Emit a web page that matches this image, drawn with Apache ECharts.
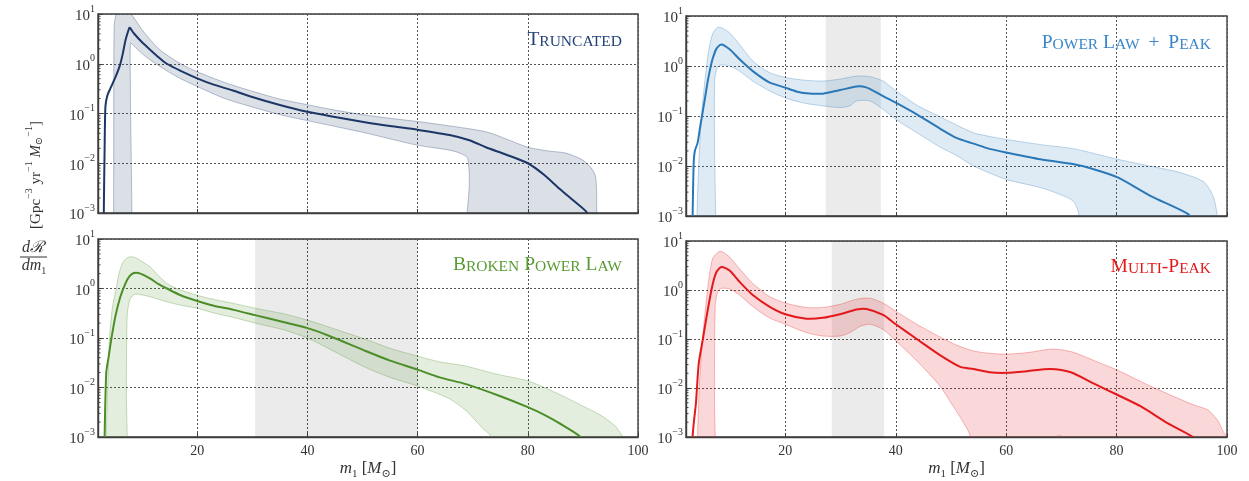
<!DOCTYPE html>
<html>
<head>
<meta charset="utf-8">
<script src="https://cdn.jsdelivr.net/npm/echarts@6/dist/echarts.min.js"></script>
<style>
  html, body { margin: 0; padding: 0; background: #ffffff; }
  #chart { width: 1249px; height: 481px; }
</style>
</head>
<body>
<div id="chart"></div>
<script>
// ---- primary-mass axis and rate axis ----
const massRange = [2, 100];
const massTicks = [20, 40, 60, 80, 100];
const rateRange = [0.001, 10];
const rateMinor = [];
for (let e = -3; e < 1; e++) for (let k = 2; k <= 9; k++) rateMinor.push(k * Math.pow(10, e));

// ---- Truncated model: median and 90% band ----
const truncMedian = [[3.0,1e-4],[3.05,0.001],[3.2,0.02],[3.35,0.14],[3.7,0.23],[4.25,0.32],[5.2,0.55],[6.0,0.95],[6.5,1.6],[7.0,3.0],[7.5,4.6],[7.75,5.3],[8.5,4.1],[10,2.7],[11.5,1.9],[13,1.35],[14.5,1.0],[17,0.72],[20,0.51],[23,0.38],[26.5,0.29],[30,0.215],[35,0.148],[40,0.108],[45,0.085],[50.7,0.066],[55,0.056],[60,0.047],[65.8,0.037],[69.4,0.029],[72.4,0.021],[76,0.015],[80,0.010],[83,0.0058],[85.7,0.0031],[88.5,0.0017],[90.8,0.001],[91.5,5e-4]];
const truncUpper = [[4.8,1e-5],[4.85,0.01],[4.87,1],[4.95,6],[5.2,9],[5.5,11],[6.5,14],[7.5,13],[8.2,9.5],[9,7],[10,4.8],[11.5,3.0],[13,2.0],[14.5,1.5],[17,1.0],[20,0.69],[25,0.42],[30,0.28],[35,0.195],[40,0.15],[45,0.117],[50,0.095],[55,0.08],[60,0.069],[65,0.058],[72.4,0.043],[76,0.031],[80,0.021],[84,0.0175],[86.9,0.016],[89.9,0.0117],[91.5,0.008],[92.3,0.0054],[92.5,0.002],[92.55,1e-5]];
const truncLower = [[4.8,1e-5],[7.85,1e-5],[7.87,0.5],[7.9,2.6],[8.5,2.3],[10,1.6],[11.5,1.19],[14.5,0.72],[17,0.5],[20,0.35],[25,0.2],[30,0.135],[35,0.095],[40,0.072],[45,0.055],[50,0.042],[55,0.031],[60,0.023],[65,0.019],[67,0.017],[68.5,0.0145],[69.1,0.0126],[69.4,0.005],[69.45,1e-5],[93,1e-5]];

// ---- Power Law + Peak ----
const plpMedian = [[3.1,1e-4],[3.2,0.001],[3.4,0.012],[3.6,0.02],[4.1,0.029],[4.5,0.055],[5.0,0.117],[5.5,0.25],[5.9,0.47],[6.3,0.8],[6.8,1.36],[7.5,2.2],[8.4,2.7],[9.9,2.16],[11.7,1.36],[14.1,0.79],[17.1,0.47],[20,0.37],[22,0.31],[23.8,0.284],[26.8,0.28],[29.9,0.33],[32.9,0.39],[34,0.39],[35.3,0.35],[37.7,0.25],[40,0.185],[43.8,0.108],[48,0.056],[51.1,0.036],[54.1,0.028],[57,0.022],[60,0.0186],[66.2,0.0136],[72.3,0.0108],[76,0.0085],[80.2,0.0059],[86.2,0.0025],[92.9,0.0011],[94,7e-4]];
const plpUpper = [[3.9,1e-5],[4.0,0.001],[4.3,0.01],[4.8,0.1],[5.5,0.6],[6.1,2.0],[6.8,4.3],[7.7,5.9],[8.6,5.7],[9.9,4.6],[11.7,2.7],[14.1,1.26],[17.1,0.74],[20,0.59],[23.5,0.52],[26.8,0.5],[30,0.55],[32.9,0.63],[35.3,0.61],[37.7,0.5],[40,0.32],[44,0.16],[48,0.097],[51.1,0.065],[54.1,0.046],[57,0.039],[60,0.034],[66,0.027],[72.3,0.022],[80.2,0.0136],[85,0.0105],[90.5,0.0079],[94,0.006],[95.9,0.0047],[97,0.0032],[97.7,0.0021],[98.2,0.001],[98.4,1e-5]];
const plpLower = [[3.9,1e-5],[7.1,1e-5],[7.15,0.05],[7.2,0.5],[7.6,0.9],[8.4,1.05],[9.9,1.0],[11.7,0.79],[14.1,0.5],[17.1,0.32],[20,0.23],[23.5,0.18],[26.8,0.16],[29.9,0.147],[31.7,0.16],[32.9,0.2],[35.3,0.2],[37.7,0.136],[40,0.086],[44,0.045],[48,0.024],[51.1,0.016],[54.1,0.01],[60,0.0054],[66.2,0.0037],[70.5,0.0025],[72.3,0.0019],[73.2,0.001],[73.5,1e-5],[98.4,1e-5]];
const plpShade = [27.3, 37.3];

// ---- Broken Power Law ----
const bplMedian = [[3.1,1e-4],[3.2,0.001],[3.5,0.02],[3.95,0.043],[4.4,0.093],[5.2,0.29],[6.06,0.68],[6.97,1.26],[7.7,1.75],[8.5,2.05],[9.7,2.0],[11.5,1.58],[13,1.22],[14.5,1.0],[17,0.73],[20,0.56],[23,0.45],[26.6,0.37],[30.5,0.29],[35.6,0.21],[40,0.158],[44,0.11],[50.7,0.054],[55,0.035],[60,0.023],[64,0.016],[68.8,0.0117],[74.8,0.0068],[80,0.004],[83,0.0028],[85.7,0.0019],[89.6,0.001],[91,6e-4]];
const bplUpper = [[3.4,1e-5],[3.5,0.001],[3.77,0.01],[4.1,0.1],[4.6,0.4],[5.3,1.0],[5.8,2.0],[6.5,3.3],[7.2,4.1],[8.0,4.4],[9,4.1],[10,3.5],[11.5,2.7],[13,1.8],[14.5,1.26],[17,0.93],[20,0.73],[23,0.6],[26.6,0.5],[30.5,0.4],[35.6,0.31],[40,0.23],[44,0.165],[50.7,0.093],[55,0.062],[60,0.043],[64,0.033],[68.8,0.027],[74,0.019],[80,0.0136],[83,0.01],[86.9,0.0063],[90,0.0042],[92.9,0.0029],[95,0.002],[96,0.0016],[96.8,0.0012],[97.2,0.001],[97.4,1e-5]];
const bplLower = [[3.4,1e-5],[7.1,1e-5],[7.15,0.01],[7.3,0.3],[7.8,0.6],[8.5,0.75],[9.1,0.77],[11.5,0.68],[14.5,0.54],[17,0.46],[20,0.4],[23,0.32],[26.6,0.26],[30.5,0.2],[35.6,0.147],[40,0.1],[44,0.06],[50.7,0.025],[55,0.016],[60,0.0107],[65.8,0.0059],[68.8,0.0034],[71.8,0.0015],[73.3,0.001],[73.6,1e-5],[97.4,1e-5]];
const bplShade = [30.5, 60];

// ---- Multi-Peak ----
const mpMedian = [[3.1,1e-4],[3.2,0.001],[3.4,0.0019],[3.8,0.0049],[4.3,0.031],[5.0,0.092],[5.9,0.37],[6.8,1.26],[7.5,2.3],[8.4,2.95],[9.9,2.5],[11.7,1.47],[14.1,0.79],[17.1,0.46],[20,0.32],[23.8,0.26],[26.8,0.27],[29.9,0.32],[32.9,0.4],[34.7,0.41],[37.7,0.31],[40,0.2],[43.8,0.1],[48,0.047],[51.7,0.027],[54.1,0.0245],[57,0.021],[60,0.0204],[63.8,0.022],[68,0.0245],[71.7,0.021],[75.9,0.0123],[80.2,0.0072],[84.4,0.0042],[89.3,0.0019],[93.8,0.001],[95,7e-4]];
const mpUpper = [[3.9,1e-5],[4.1,0.001],[4.4,0.01],[5.0,0.1],[5.9,1.0],[6.8,4.3],[8.0,6.1],[8.6,6.0],[9.9,4.7],[11.7,2.7],[14.1,1.36],[17.1,0.74],[20,0.54],[23.8,0.44],[26.8,0.44],[29.9,0.51],[32.9,0.65],[35.3,0.68],[37.7,0.54],[40,0.37],[43.8,0.2],[48,0.11],[51,0.075],[54.1,0.057],[57,0.051],[60,0.049],[64,0.053],[68,0.062],[70,0.06],[72.3,0.053],[76,0.036],[80.2,0.023],[85,0.0125],[90.5,0.0066],[94,0.0045],[96.5,0.0036],[97.5,0.0028],[98.4,0.0021],[99.3,0.0013],[99.9,0.001],[100.5,1e-5]];
const mpLower = [[3.9,1e-5],[7.1,1e-5],[7.15,0.01],[7.3,0.5],[7.8,0.95],[8.4,1.08],[9.9,1.05],[11.7,0.79],[14.1,0.46],[17.1,0.27],[20,0.2],[23.8,0.135],[26.8,0.115],[29.9,0.115],[31.7,0.135],[33.5,0.18],[35.3,0.2],[37.7,0.157],[40,0.092],[43.8,0.036],[48,0.011],[50,0.005],[52,0.0022],[53.5,0.001],[53.8,1e-5],[68.2,1e-5],[69,0.00098],[69.5,0.00108],[70.2,0.00098],[71,1e-5],[100.5,1e-5]];
const mpShade = [28.4, 37.9];

// ---- panel definitions ----
const panels = [
  { title: 'Truncated',        median: truncMedian, upper: truncUpper, lower: truncLower, shade: null,
    line: '#1c3766', text: '#24427a', fill: 'rgba(28,55,102,0.16)', edge: 'rgba(28,55,102,0.30)',
    grid: { left: 98, top: 14, width: 540, height: 199 }, labels: false, titlePos: [622, 40] },
  { title: 'Power Law + Peak', median: plpMedian, upper: plpUpper, lower: plpLower, shade: plpShade,
    line: '#2a78b8', text: '#3a86c8', fill: 'rgba(42,120,184,0.15)', edge: 'rgba(42,120,184,0.30)',
    grid: { left: 686, top: 16, width: 541, height: 200 }, labels: false, titlePos: [1211, 43] },
  { title: 'Broken Power Law', median: bplMedian, upper: bplUpper, lower: bplLower, shade: bplShade,
    line: '#4b8e28', text: '#5a9a35', fill: 'rgba(75,142,40,0.15)', edge: 'rgba(75,142,40,0.30)',
    grid: { left: 98, top: 239, width: 540, height: 200 }, labels: true, titlePos: [622, 265] },
  { title: 'Multi-Peak',       median: mpMedian, upper: mpUpper, lower: mpLower, shade: mpShade,
    line: '#e3191c', text: '#e3191c', fill: 'rgba(227,25,28,0.17)', edge: 'rgba(227,25,28,0.30)',
    grid: { left: 686, top: 241, width: 541, height: 200 }, labels: true, titlePos: [1211, 267] }
];

const serif = '"Liberation Serif", "DejaVu Serif", serif';
const axisColor = '#3d3d3d';

// small caps: capitals stay large, lower-case letters become small capitals,
// a lone "+" gets math spacing
function smallCaps(str) {
  let out = '', run = '', runStyle = null;
  const flush = () => { if (run) out += '{' + runStyle + '|' + run + '}'; run = ''; };
  for (const ch of str) {
    const style = ch === '+' ? 'p' : (ch !== ch.toUpperCase() ? 's' : 'c');
    if (runStyle !== null && style !== runStyle) flush();
    runStyle = style;
    run += style === 's' ? ch.toUpperCase() : ch;
  }
  flush();
  return out;
}

function powerLabel(v) {
  const e = Math.round(Math.log10(v));
  return '{b|10}{s|' + (e < 0 ? '\u2212' + (-e) : String(e)) + '}';
}

const grids = [], xAxes = [], yAxes = [], series = [], graphics = [];

panels.forEach((p, i) => {
  grids.push(Object.assign({ show: true, borderColor: axisColor, borderWidth: 1.4, backgroundColor: 'transparent', containLabel: false }, p.grid));

  xAxes.push({
    type: 'value', gridIndex: i, min: massRange[0], max: massRange[1],
    axisLine: { show: true, lineStyle: { color: axisColor, width: 1.4 } },
    axisTick: { show: true, inside: true, length: 4, customValues: massTicks, lineStyle: { color: axisColor } },
    axisLabel: { show: p.labels, customValues: massTicks, margin: 7, color: '#333', fontFamily: serif, fontSize: 14 },
    splitLine: { show: true, lineStyle: { color: '#555', type: [2, 2], width: 1 } },
    name: p.labels ? '{i|m}{sub|1}{n| [}{i|M}{sub|\u2299}{n|]}' : '',
    nameLocation: 'middle', nameGap: 23,
    nameTextStyle: {
      color: '#333', fontFamily: serif,
      rich: {
        i: { fontFamily: serif, fontStyle: 'italic', fontSize: 17, lineHeight: 20, color: '#333', verticalAlign: 'top' },
        n: { fontFamily: serif, fontSize: 17, lineHeight: 20, color: '#333', verticalAlign: 'top' },
        sub: { fontFamily: serif, fontSize: 11, lineHeight: 11, color: '#333', verticalAlign: 'bottom' }
      }
    }
  });

  yAxes.push({
    type: 'log', logBase: 10, gridIndex: i, min: rateRange[0], max: rateRange[1],
    axisLine: { show: true, lineStyle: { color: axisColor, width: 1.4 } },
    axisTick: { show: true, inside: true, length: 4, lineStyle: { color: axisColor } },
    axisLabel: {
      show: true, margin: 3, color: '#333', formatter: powerLabel,
      rich: {
        b: { fontFamily: serif, fontSize: 15, lineHeight: 20, color: '#333', verticalAlign: 'bottom' },
        s: { fontFamily: serif, fontSize: 10, lineHeight: 10, color: '#333', verticalAlign: 'top' }
      }
    },
    splitLine: { show: true, lineStyle: { color: '#555', type: [2, 2], width: 1 } }
  });

  // grey reference interval
  if (p.shade) {
    series.push({
      type: 'custom', xAxisIndex: i, yAxisIndex: i, clip: true, silent: true, z: 1,
      data: [[p.shade[0], p.shade[1]]],
      encode: { x: [0, 1] },
      renderItem: (params, api) => {
        const a = api.coord([api.value(0), rateRange[1]]);
        const b = api.coord([api.value(1), rateRange[0]]);
        return { type: 'rect', shape: { x: a[0], y: a[1], width: b[0] - a[0], height: b[1] - a[1] },
                 style: { fill: 'rgba(0,0,0,0.08)' } };
      }
    });
  }

  // 90% credible band
  series.push({
    type: 'custom', xAxisIndex: i, yAxisIndex: i, clip: true, silent: true, z: 2,
    data: [[50, 1]],
    renderItem: (params, api) => {
      const pts = p.upper.map(d => api.coord(d))
        .concat(p.lower.slice().reverse().map(d => api.coord(d)));
      return { type: 'polygon', shape: { points: pts, smooth: 0.25 },
               style: { fill: p.fill, stroke: p.edge, lineWidth: 1 } };
    }
  });

  // median
  series.push({
    type: 'custom', xAxisIndex: i, yAxisIndex: i, clip: true, silent: true, z: 3,
    data: [[50, 1]],
    renderItem: (params, api) => {
      const pts = p.median.map(d => api.coord(d));
      return { type: 'polyline', shape: { points: pts, smooth: 0.25 },
               style: { fill: null, stroke: p.line, lineWidth: 2, lineJoin: 'round' } };
    }
  });

  // minor log ticks on the rate axis
  series.push({
    type: 'custom', xAxisIndex: i, yAxisIndex: i, clip: false, silent: true, z: 4,
    data: rateMinor.map(v => [massRange[0], v]),
    encode: { x: 0, y: 1 },
    renderItem: (params, api) => {
      const pt = api.coord([api.value(0), api.value(1)]);
      const x0 = params.coordSys.x;
      return { type: 'line', shape: { x1: x0, y1: pt[1], x2: x0 + 2.5, y2: pt[1] },
               style: { stroke: axisColor, lineWidth: 1 } };
    }
  });

  graphics.push({
    type: 'text', x: p.titlePos[0], y: p.titlePos[1], z: 10,
    style: {
      text: smallCaps(p.title), align: 'right', verticalAlign: 'middle',
      rich: {
        c: { fontFamily: serif, fontSize: 19.5, lineHeight: 20, fill: p.text, verticalAlign: 'bottom' },
        p: { fontFamily: serif, fontSize: 19.5, lineHeight: 20, fill: p.text, verticalAlign: 'bottom', padding: [0, 4, 0, 4] },
        s: { fontFamily: serif, fontSize: 15.5, lineHeight: 15, fill: p.text, verticalAlign: 'bottom' }
      }
    }
  });
});

// rate axis title: d R / d m1 over the units
graphics.push(
  { type: 'text', x: 33, y: 248, style: { text: 'd\u211B', fontFamily: serif, fontStyle: 'italic', fontSize: 16, fill: '#333', align: 'center', verticalAlign: 'middle' } },
  { type: 'line', shape: { x1: 20, y1: 257, x2: 47, y2: 257 }, style: { stroke: '#333', lineWidth: 1 } },
  { type: 'text', x: 34, y: 267, style: {
      text: '{i|dm}{sub|1}', align: 'center', verticalAlign: 'middle',
      rich: {
        i: { fontFamily: serif, fontStyle: 'italic', fontSize: 16, lineHeight: 18, fill: '#333', verticalAlign: 'top' },
        sub: { fontFamily: serif, fontSize: 10, lineHeight: 10, fill: '#333', verticalAlign: 'bottom' }
      } } },
  { type: 'text', x: 34, y: 175, rotation: Math.PI / 2, style: {
      text: '{n|[Gpc}{sup|\u22123}{n| yr}{sup|\u22121}{n| }{i|M}{sub|\u2299}{sup|\u22121}{n|]}',
      align: 'center', verticalAlign: 'middle',
      rich: {
        n: { fontFamily: serif, fontSize: 15, lineHeight: 20, fill: '#333', verticalAlign: 'bottom' },
        i: { fontFamily: serif, fontStyle: 'italic', fontSize: 15, lineHeight: 20, fill: '#333', verticalAlign: 'bottom' },
        sup: { fontFamily: serif, fontSize: 10, lineHeight: 10, fill: '#333', verticalAlign: 'top' },
        sub: { fontFamily: serif, fontSize: 10, lineHeight: 10, fill: '#333', verticalAlign: 'bottom' }
      } } }
);

const chart = echarts.init(document.getElementById('chart'), null, { renderer: 'canvas' });
chart.setOption({
  animation: false,
  backgroundColor: '#ffffff',
  grid: grids,
  xAxis: xAxes,
  yAxis: yAxes,
  series: series,
  graphic: graphics
});
</script>
</body>
</html>
